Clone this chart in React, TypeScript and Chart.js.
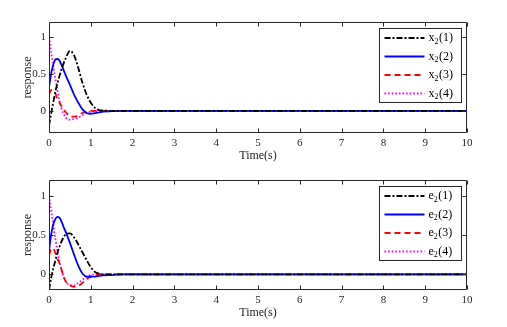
import React, { useEffect, useRef } from 'react';
import { Chart, registerables } from 'chart.js';

Chart.register(...registerables);

const FONT = "'Liberation Serif', 'Times New Roman', serif";

// time axis (s)
const timeS = [0, 0.05, 0.1, 0.15, 0.2, 0.25, 0.3, 0.35, 0.4, 0.5, 0.6, 0.7, 0.8, 0.9, 1.0, 1.1, 1.2, 1.3, 1.5, 1.8, 2, 3, 4, 5, 6, 7, 8, 9, 10];

// top panel: x2
const x2_1 = [-0.2, -0.04, 0.11, 0.25, 0.37, 0.47, 0.56, 0.64, 0.71, 0.81, 0.75, 0.58, 0.38, 0.22, 0.11, 0.04, 0.01, 0.003, 0, 0, 0, 0, 0, 0, 0, 0, 0, 0, 0];
const x2_2 = [0.31, 0.5, 0.62, 0.69, 0.7, 0.68, 0.62, 0.55, 0.48, 0.35, 0.22, 0.11, 0.02, -0.03, -0.04, -0.03, -0.02, -0.01, -0.005, 0, 0, 0, 0, 0, 0, 0, 0, 0, 0];
const x2_3 = [0.22, 0.28, 0.28, 0.24, 0.16, 0.11, 0.06, 0.02, -0.02, -0.07, -0.08, -0.06, -0.03, -0.01, 0, 0, 0, 0, 0, 0, 0, 0, 0, 0, 0, 0, 0, 0, 0];
const x2_4 = [1.0, 0.8, 0.62, 0.44, 0.28, 0.14, 0.03, -0.04, -0.09, -0.12, -0.11, -0.09, -0.06, -0.03, -0.01, 0, 0, 0, 0, 0, 0, 0, 0, 0, 0, 0, 0, 0, 0];

// bottom panel: e2
const e2_1 = [-0.2, -0.05, 0.07, 0.17, 0.27, 0.35, 0.42, 0.47, 0.51, 0.52, 0.47, 0.38, 0.28, 0.18, 0.09, 0.03, 0.01, 0, 0, 0, 0, 0, 0, 0, 0, 0, 0, 0, 0];
const e2_2 = [0.3, 0.5, 0.63, 0.7, 0.73, 0.72, 0.67, 0.6, 0.54, 0.4, 0.25, 0.11, 0.01, -0.03, -0.03, -0.03, -0.02, -0.015, -0.01, 0, 0, 0, 0, 0, 0, 0, 0, 0, 0];
const e2_3 = [0.24, 0.32, 0.33, 0.27, 0.2, 0.14, 0.06, -0.03, -0.09, -0.14, -0.16, -0.15, -0.11, -0.06, -0.03, -0.01, 0, 0, 0, 0, 0, 0, 0, 0, 0, 0, 0, 0, 0];
const e2_4 = [1.0, 0.82, 0.64, 0.46, 0.3, 0.16, 0.05, -0.03, -0.09, -0.14, -0.14, -0.11, -0.07, -0.03, -0.01, 0, 0, 0, 0, 0, 0, 0, 0, 0, 0, 0, 0, 0, 0];

const xTickVals = [0, 1, 2, 3, 4, 5, 6, 7, 8, 9, 10];
const yTickVals = [0, 0.5, 1];
const topLabels = ['x₂(1)', 'x₂(2)', 'x₂(3)', 'x₂(4)'];
const bottomLabels = ['e₂(1)', 'e₂(2)', 'e₂(3)', 'e₂(4)'];

const STYLES = [
  { color: '#000000', dash: [6, 2, 2, 2] },
  { color: '#0000ff', dash: [] },
  { color: '#ff0000', dash: [6, 4] },
  { color: '#ff00ff', dash: [1.6, 2] },
];

function drawSubText(ctx: CanvasRenderingContext2D, text: string, x: number, y: number) {
  let cx = x;
  for (const ch of text) {
    if (ch === '₂') {
      ctx.font = `8px ${FONT}`;
      ctx.fillText('2', cx, y + 3.5);
      cx += ctx.measureText('2').width + 0.5;
    } else {
      ctx.font = `12px ${FONT}`;
      ctx.fillText(ch, cx, y);
      cx += ctx.measureText(ch).width;
    }
  }
}

const boxPlugin = {
  id: 'matlabBox',
  afterDatasetsDraw(chart: any) {
    const { ctx, chartArea: a, scales } = chart;
    ctx.save();
    const L = Math.round(a.left) + 0.5;
    const R = Math.round(a.right) - 0.5;
    const T = Math.round(a.top) + 0.5;
    const B = Math.round(a.bottom) - 0.5;
    ctx.strokeStyle = '#262626';
    ctx.lineWidth = 1;
    ctx.setLineDash([]);
    ctx.beginPath();
    ctx.rect(L, T, R - L, B - T);
    const tl = 4;
    for (const v of xTickVals) {
      const px = Math.round(scales.x.getPixelForValue(v)) + 0.5;
      ctx.moveTo(px, B); ctx.lineTo(px, B - tl);
      ctx.moveTo(px, T); ctx.lineTo(px, T + tl);
    }
    for (const v of yTickVals) {
      const py = Math.round(scales.y.getPixelForValue(v)) + 0.5;
      ctx.moveTo(L, py); ctx.lineTo(L + tl, py);
      ctx.moveTo(R, py); ctx.lineTo(R - tl, py);
    }
    ctx.stroke();

    // legend
    const w = 82, h = 74;
    const bx = Math.round(a.right) - 6 - w + 0.5;
    const by = Math.round(a.top) + 6 + 0.5;
    ctx.fillStyle = '#ffffff';
    ctx.fillRect(bx, by, w, h);
    ctx.strokeStyle = '#262626';
    ctx.strokeRect(bx, by, w, h);
    chart.data.datasets.forEach((ds: any, i: number) => {
      const ry = by + 9.5 + i * 18.5;
      ctx.strokeStyle = ds.borderColor;
      ctx.lineWidth = 1.8;
      ctx.lineCap = 'butt';
      ctx.setLineDash(ds.borderDash || []);
      ctx.beginPath();
      ctx.moveTo(bx + 5, ry);
      ctx.lineTo(bx + 45, ry);
      ctx.stroke();
      ctx.setLineDash([]);
      ctx.fillStyle = '#000000';
      ctx.textBaseline = 'middle';
      ctx.textAlign = 'left';
      drawSubText(ctx, ds.label, bx + 49, ry);
    });
    ctx.restore();
  },
};

type PanelProps = {
  canvasTop: number;
  chartTop: number;
  chartBottom: number;
  yMin: number;
  yMax: number;
  series: number[][];
  labels: string[];
};

function Panel({ canvasTop, chartTop, chartBottom, yMin, yMax, series, labels }: PanelProps) {
  const ref = useRef<HTMLCanvasElement>(null);
  const height = chartBottom + 30 - canvasTop;
  useEffect(() => {
    if (!ref.current) return;
    const chart = new Chart(ref.current, {
      type: 'line',
      data: {
        datasets: series.map((vals, i) => ({
          label: labels[i],
          data: timeS.map((t, k) => ({ x: t, y: vals[k] })),
          borderColor: STYLES[i].color,
          borderDash: STYLES[i].dash,
          borderWidth: 1.8,
          borderCapStyle: 'butt',
          pointRadius: 0,
          fill: false,
          cubicInterpolationMode: 'monotone',
        })),
      },
      options: {
        animation: false,
        responsive: false,
        devicePixelRatio: 1,
        layout: { padding: { top: chartTop - canvasTop, right: 507 - 467, left: 0, bottom: 0 } },
        plugins: { legend: { display: false }, tooltip: { enabled: false } },
        scales: {
          x: {
            type: 'linear',
            min: 0,
            max: 10,
            afterBuildTicks: (s: any) => { s.ticks = xTickVals.map((v) => ({ value: v })); },
            afterFit: (s: any) => { s.height = 30; },
            grid: { display: false, drawTicks: false },
            border: { display: false },
            ticks: { color: '#262626', font: { family: FONT, size: 11 }, padding: 4, maxRotation: 0, autoSkip: false, callback: (v: any) => String(v) },
            title: { display: true, text: 'Time(s)', color: '#262626', font: { family: FONT, size: 12 }, padding: { top: 0, bottom: 0 } },
          },
          y: {
            type: 'linear',
            min: yMin,
            max: yMax,
            afterBuildTicks: (s: any) => { s.ticks = yTickVals.map((v) => ({ value: v })); },
            afterFit: (s: any) => { s.width = 49; },
            grid: { display: false, drawTicks: false },
            border: { display: false },
            ticks: { color: '#262626', font: { family: FONT, size: 11 }, padding: 3, callback: (v: any) => String(v) },
            title: { display: true, text: 'response', color: '#262626', font: { family: FONT, size: 12 }, padding: { top: 21, bottom: 0 } },
          },
        },
      },
      plugins: [boxPlugin],
    } as any);
    return () => chart.destroy();
  }, []);
  return (
    <canvas
      ref={ref}
      width={507}
      height={height}
      style={{ position: 'absolute', left: 0, top: canvasTop, width: 507, height }}
    />
  );
}

export default function App() {
  return (
    <div style={{ position: 'absolute', left: 0, top: 0, width: 507, height: 327, background: '#ffffff' }}>
      <Panel canvasTop={0} chartTop={22} chartBottom={133} yMin={-0.3} yMax={1.2} series={[x2_1, x2_2, x2_3, x2_4]} labels={topLabels} />
      <Panel canvasTop={163} chartTop={180} chartBottom={290} yMin={-0.2} yMax={1.2} series={[e2_1, e2_2, e2_3, e2_4]} labels={bottomLabels} />
    </div>
  );
}
